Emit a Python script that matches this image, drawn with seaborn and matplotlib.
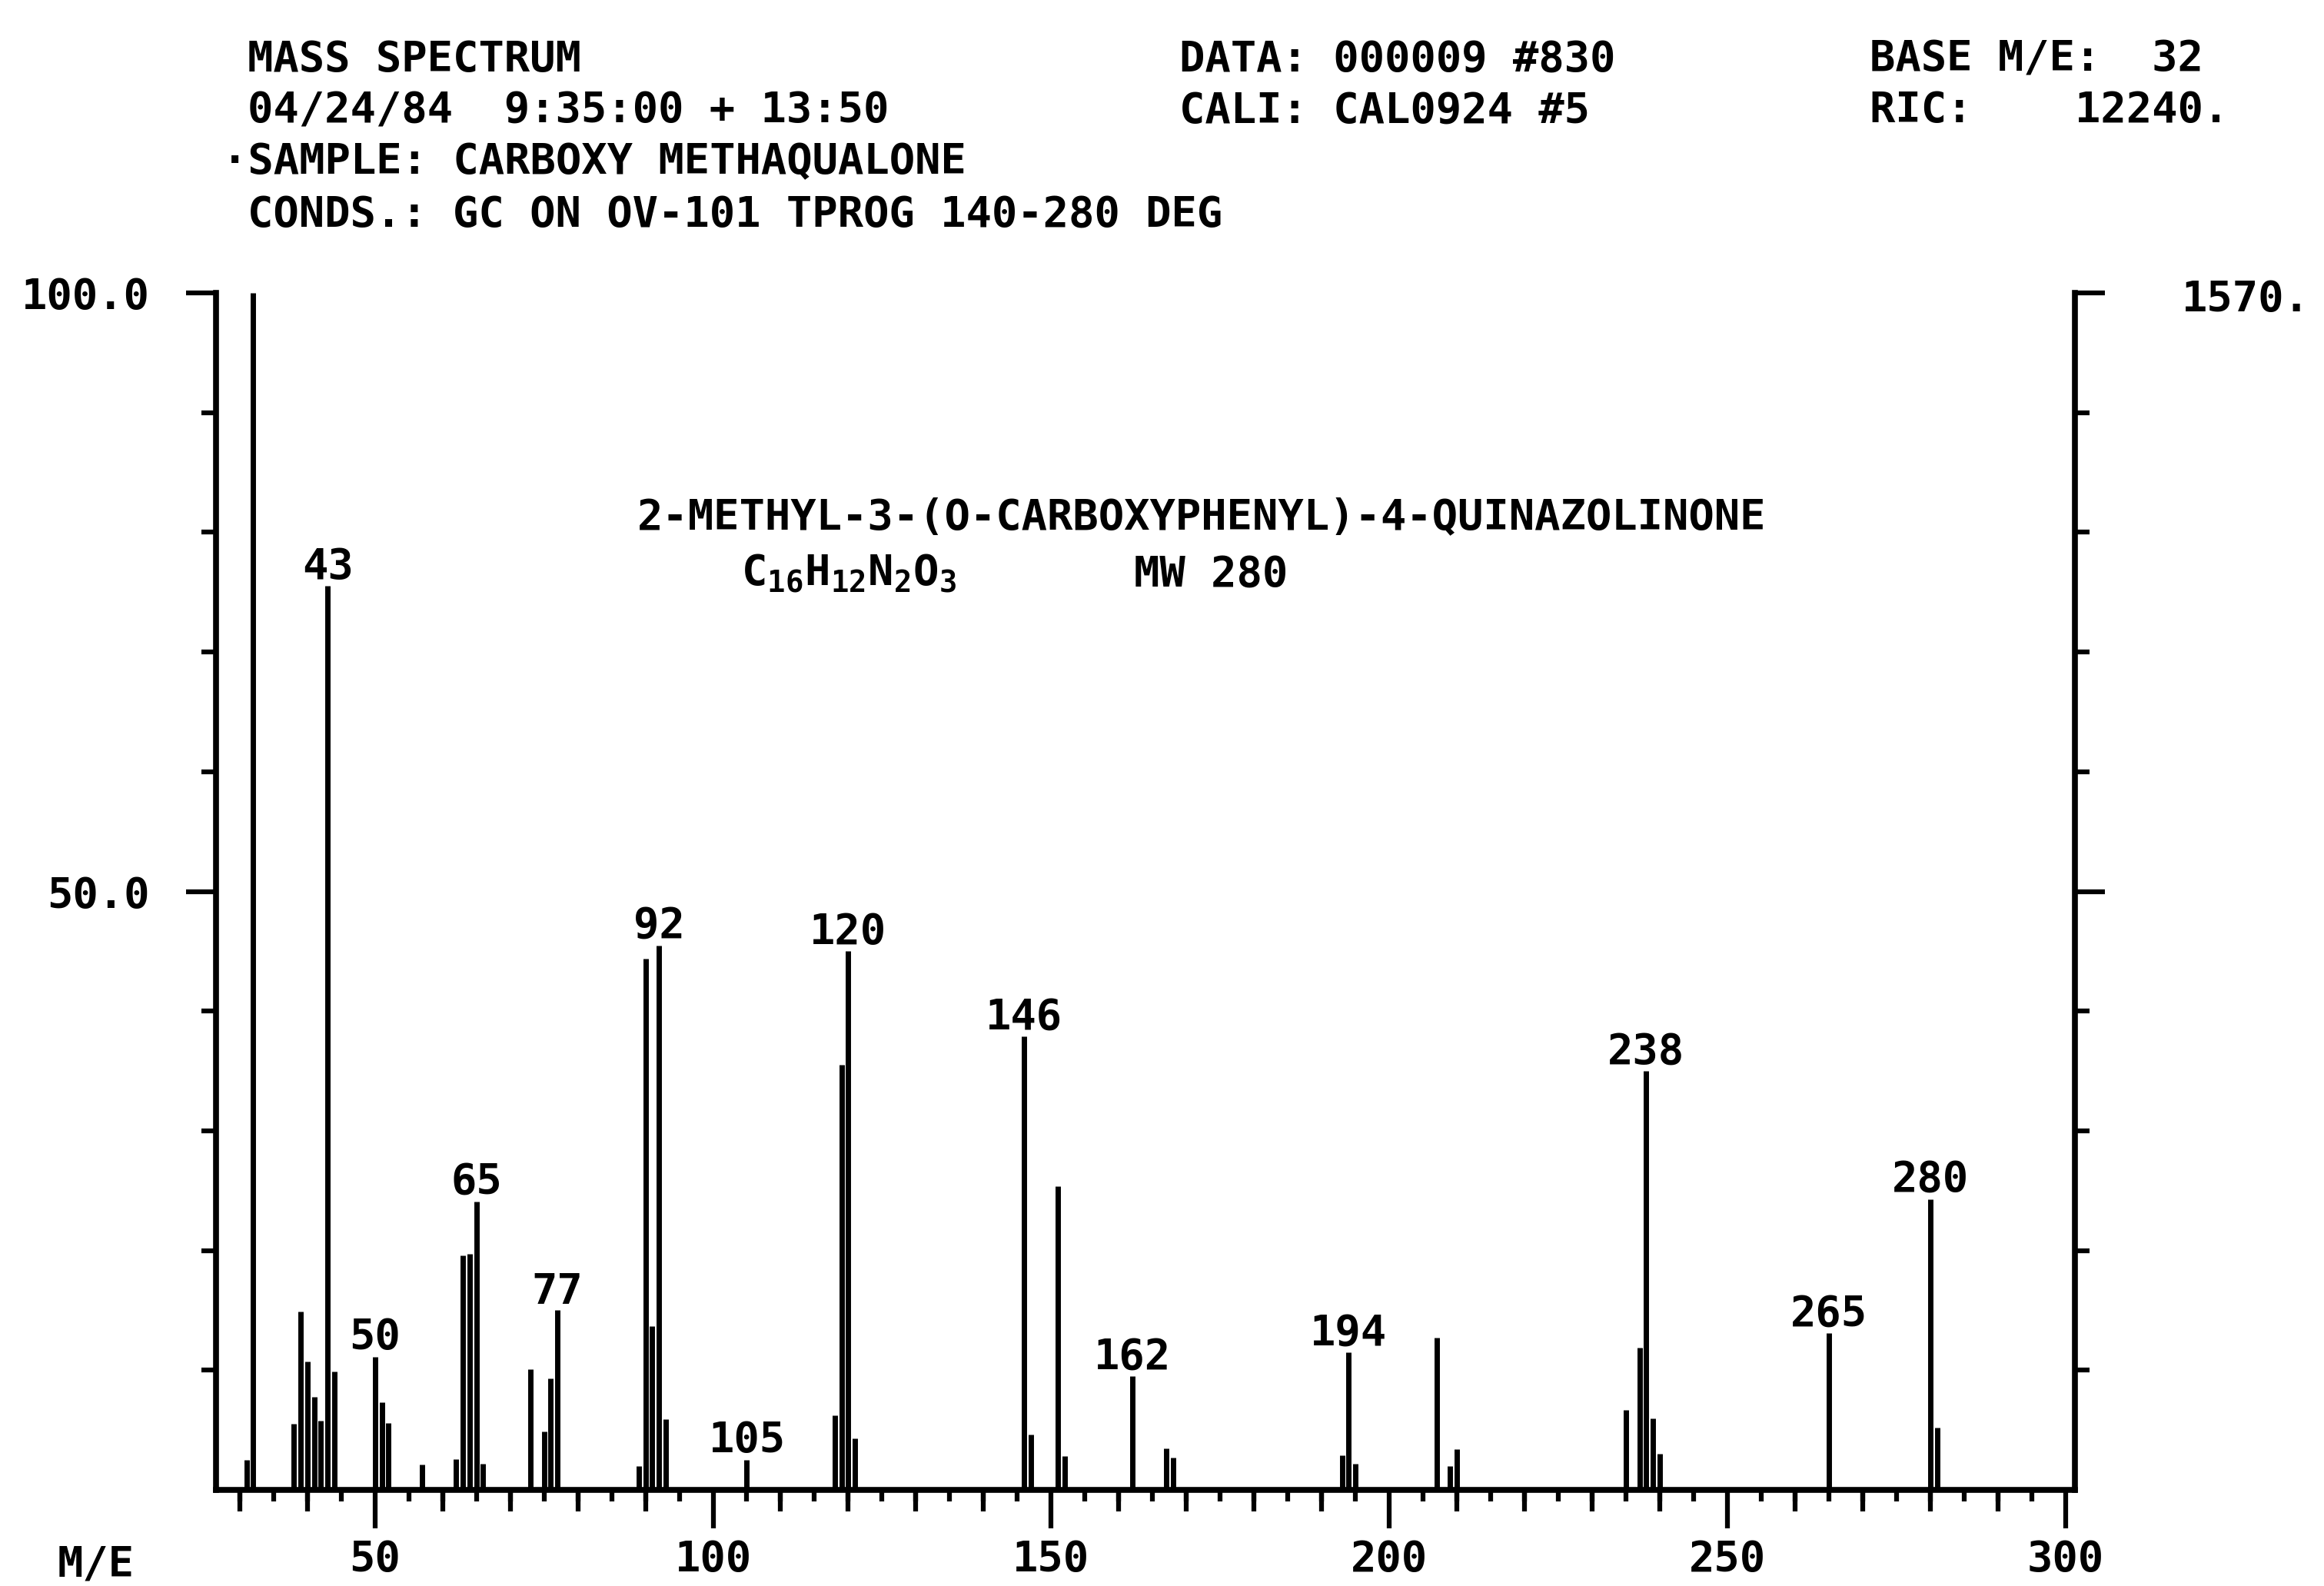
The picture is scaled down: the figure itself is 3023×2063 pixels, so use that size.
import numpy as np
import pandas as pd
import matplotlib
matplotlib.use("Agg")
import matplotlib.pyplot as plt
from matplotlib.ticker import FixedLocator, FormatStrFormatter, MultipleLocator
import seaborn as sns

# peaks: m/e and relative intensity (%)
mass = [31, 32, 38, 39, 40, 41, 42, 43, 44, 50, 51, 52, 57, 62, 63, 64, 65, 66,
        73, 75, 76, 77, 89, 90, 91, 92, 93, 105, 118, 119, 120, 121, 146, 147,
        151, 152, 162, 167, 168, 193, 194, 195, 207, 209, 210, 235, 237, 238,
        239, 240, 265, 280, 281]
intensity = [2.5, 100.0, 5.5, 14.9, 10.7, 7.8, 5.8, 75.5, 9.9, 11.1, 7.3, 5.6, 2.1,
             2.6, 19.6, 19.7, 24.1, 2.2, 10.1, 4.9, 9.3, 15.0, 2.0, 44.4, 13.7,
             45.5, 5.9, 2.5, 6.2, 35.5, 45.0, 4.3, 37.9, 4.6, 25.4, 2.8, 9.5,
             3.5, 2.7, 2.9, 11.5, 2.2, 12.7, 2.0, 3.4, 6.7, 11.9, 35.0, 6.0, 3.0,
             13.1, 24.3, 5.2]
labelled = [43, 50, 65, 77, 92, 105, 120, 146, 162, 194, 238, 265, 280]

header_left = ["MASS SPECTRUM",
               "04/24/84  9:35:00 + 13:50",
               "\u00b7SAMPLE: CARBOXY METHAQUALONE",
               "CONDS.: GC ON OV-101 TPROG 140-280 DEG"]
header_mid = ["DATA: 000009 #830", "CALI: CAL0924 #5"]
header_right = ["BASE M/E:  32", "RIC:    12240."]
compound = "2-METHYL-3-(O-CARBOXYPHENYL)-4-QUINAZOLINONE"
formula = r"C$_{16}$H$_{12}$N$_{2}$O$_{3}$"
mol_weight = "MW 280"
ric_scale = "1570."
x_label = "M/E"

W, H = 3023, 2063
FS = 40

sns.set_style("white")
plt.rcParams["font.family"] = ["DejaVu Sans Mono"]
plt.rcParams["font.weight"] = "bold"
plt.rcParams["mathtext.default"] = "regular"
for key in ["text.color", "axes.labelcolor", "xtick.color", "ytick.color", "axes.edgecolor"]:
    plt.rcParams[key] = "black"


def fx(x):
    return x / W


def fy(y):
    # y in pixels from the top, nudged so the caps sit on the measured centre
    return 1 - (y + 5) / H


fig = plt.figure(figsize=(W / 100, H / 100), dpi=100)
fig.patch.set_facecolor("white")
ax = fig.add_axes([fx(281), 1 - 1938 / H, fx(2699 - 281), (1938 - 381) / H])

# each peak becomes a vertical stem: (m, 0) -> (m, I)
stems = pd.DataFrame({
    "mass": np.repeat(mass, 2),
    "rel": np.column_stack([np.zeros(len(mass)), intensity]).ravel(),
})
sns.lineplot(data=stems, x="mass", y="rel", units="mass", estimator=None,
             color="black", lw=5, solid_capstyle="butt", ax=ax, legend=False)
for ln in ax.lines:
    ln.set_clip_on(False)

ax.set_xlim(26.5, 301.4)
ax.set_ylim(0, 100)
ax.set_xlabel("")
ax.set_ylabel("")

# peak labels
peak_height = dict(zip(mass, intensity))
for m in labelled:
    ax.annotate(str(m), xy=(m, peak_height[m]), xytext=(0, 7),
                textcoords="offset points", ha="center", va="baseline",
                fontsize=FS)

# axes frame like the plotter output
ax.spines["top"].set_visible(False)
for side in ["left", "right", "bottom"]:
    ax.spines[side].set_linewidth(5.5)
    ax.spines[side].set_color("black")

ax.xaxis.set_major_locator(MultipleLocator(50))
ax.xaxis.set_minor_locator(FixedLocator(list(range(30, 301, 5))))
ax.tick_params(axis="x", which="major", bottom=True, length=36, width=4.5,
               direction="out", pad=10, labelsize=FS, colors="black")
ax.tick_params(axis="x", which="minor", bottom=True, length=11, width=4.5,
               direction="out", colors="black")

# medium ticks every 10
sec = ax.secondary_xaxis("bottom")
sec.set_xticks([v for v in range(30, 301, 10) if v % 50])
sec.tick_params(axis="x", bottom=True, length=20, width=4.5, direction="out",
                labelbottom=False, colors="black")
sec.spines["bottom"].set_visible(False)

ax.yaxis.set_major_locator(FixedLocator([50, 100]))
ax.yaxis.set_minor_locator(FixedLocator([10, 20, 30, 40, 60, 70, 80, 90]))
ax.yaxis.set_major_formatter(FormatStrFormatter("%.1f"))
ax.tick_params(axis="y", which="major", length=28, width=4.5, direction="out",
               left=True, right=True, labelleft=True, labelright=False,
               pad=34, labelsize=FS, colors="black")
ax.tick_params(axis="y", which="minor", length=14, width=4.5, direction="out",
               left=True, right=True, colors="black")

# header block
rows = [72, 139, 206, 274]
fig.text(fx(322), fy(rows[0]), header_left[0], fontsize=FS, va="center")
fig.text(fx(322), fy(rows[1]), header_left[1], fontsize=FS, va="center")
fig.text(fx(289), fy(rows[2]), header_left[2], fontsize=FS, va="center")
fig.text(fx(322), fy(rows[3]), header_left[3], fontsize=FS, va="center")
for i, t in enumerate(header_mid):
    fig.text(fx(1534), fy(rows[i]), t, fontsize=FS, va="center")
for i, t in enumerate(header_right):
    fig.text(fx(2432), fy(rows[i]), t, fontsize=FS, va="center")

fig.text(fx(2838), fy(385), ric_scale, fontsize=FS, va="center")
fig.text(fx(829), fy(668), compound, fontsize=FS, va="center")
fig.text(fx(964), fy(740), formula, fontsize=FS, va="center")
fig.text(fx(1475), fy(742), mol_weight, fontsize=FS, va="center")
fig.text(fx(125), fy(2030), x_label, fontsize=FS, va="center", ha="center")

fig.savefig("out.png", dpi=100, facecolor="white")
